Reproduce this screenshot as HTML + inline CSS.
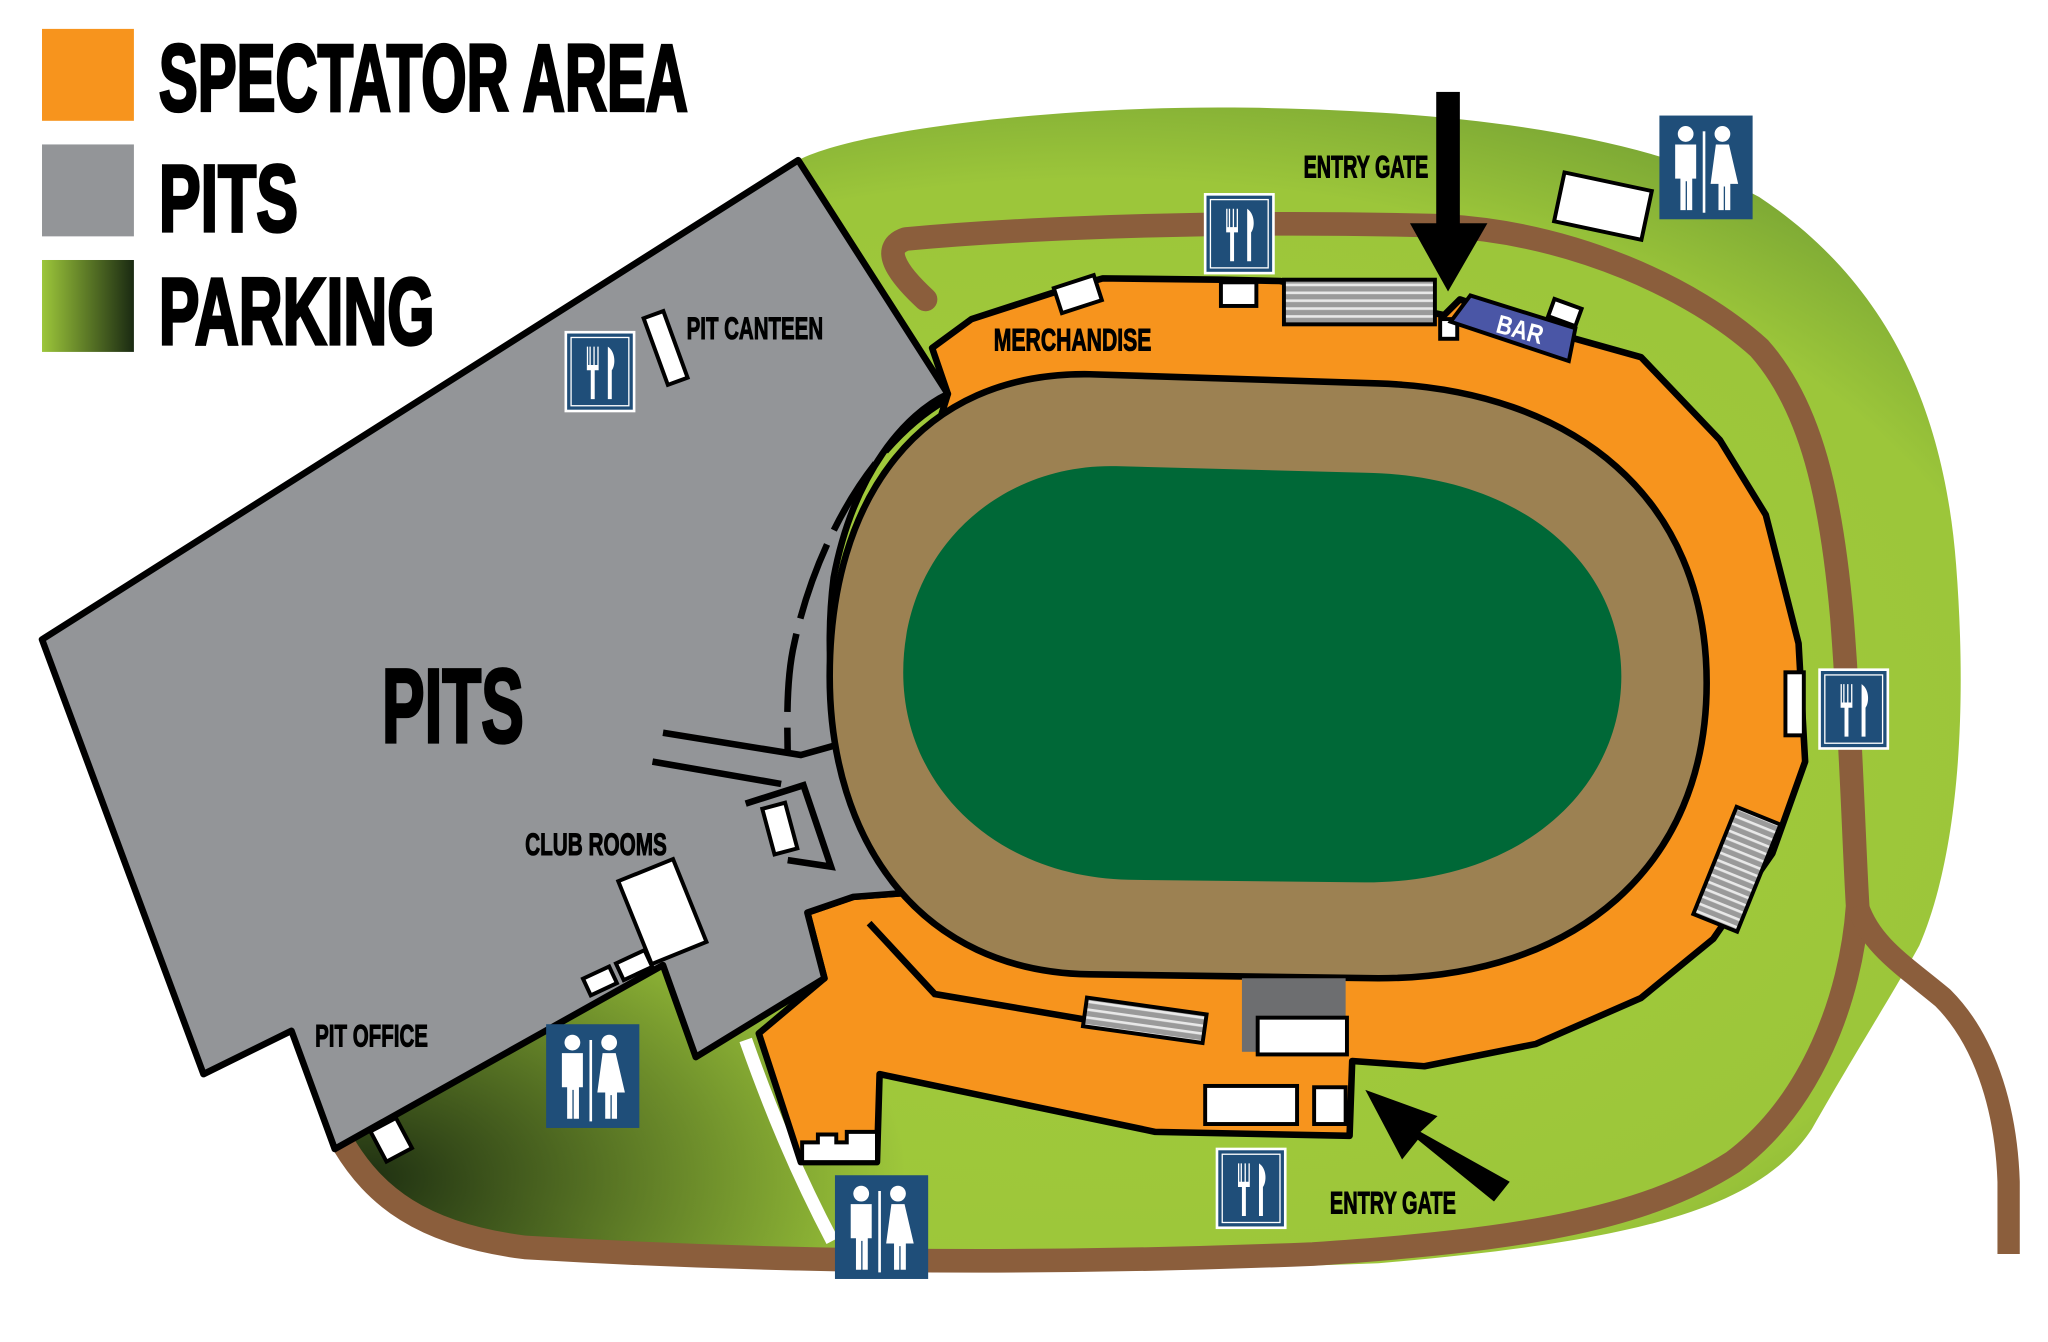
<!DOCTYPE html>
<html><head><meta charset="utf-8"><style>html,body{margin:0;padding:0;background:#fff}svg{display:block}text{font-family:"Liberation Sans",sans-serif;font-weight:bold}</style></head>
<body>
<svg width="2048" height="1342" viewBox="0 0 1560 1022" preserveAspectRatio="none" xmlns="http://www.w3.org/2000/svg">
<defs>
<radialGradient id="pg" cx="0.55" cy="0.55" r="0.65">
<stop offset="0" stop-color="#a4cc3c"/><stop offset="0.75" stop-color="#9cc63a"/><stop offset="0.92" stop-color="#7aa634"/><stop offset="1" stop-color="#5d8a2c"/></radialGradient>
<radialGradient id="dk" cx="0.17" cy="0.92" r="0.28"><stop offset="0" stop-color="#1a2a10" stop-opacity="0.95"/><stop offset="1" stop-color="#1a2a10" stop-opacity="0"/></radialGradient>
<linearGradient id="lg" x1="0" x2="1"><stop offset="0" stop-color="#9cc63a"/><stop offset="1" stop-color="#1a2a12"/></linearGradient>
<pattern id="st" width="6" height="6" patternUnits="userSpaceOnUse"><rect width="6" height="6" fill="#9a9a9a"/><rect width="6" height="2" fill="#e8e8e8"/></pattern>
<g id="food"><rect x="0" y="0" width="54" height="62" fill="#fff"/><rect x="2" y="2" width="50" height="58" fill="#1f4e79"/><rect x="5" y="5" width="44" height="52" fill="none" stroke="#fff" stroke-width="1"/><path d="M17 12v18h3v22h3V30h3V12h-1v14h-2V12h-1v14h-2V12h-1v14h-1V12z M33 12c6 4 6 14 3 18v22h-3z" fill="#fff"/></g>
<g id="wc"><rect width="71" height="79" fill="#1f4e79"/><circle cx="20" cy="14" r="6" fill="#fff"/><path d="M12 22h16v26h-3v24h-4V50h-1v22h-4V48h-4z" fill="#fff"/><circle cx="48" cy="14" r="6" fill="#fff"/><path d="M43 22h10l7 30h-6v20h-4V54h-1v18h-4V52h-6z" fill="#fff"/><rect x="33" y="12" width="2" height="62" fill="#fff"/></g>
</defs>
<rect width="1560" height="1022" fill="#fff"/>
<!-- legend -->
<rect x="32" y="22" width="70" height="70" fill="#f7941d"/>
<rect x="32" y="110" width="70" height="70" fill="#939598"/>
<rect x="32" y="198" width="70" height="70" fill="url(#lg)"/>
<g stroke="#000" stroke-width="2.5">
<text x="121" y="84" font-size="72" textLength="403" lengthAdjust="spacingAndGlyphs">SPECTATOR AREA</text>
<text x="121" y="176" font-size="72" textLength="106" lengthAdjust="spacingAndGlyphs">PITS</text>
<text x="121" y="262" font-size="72" textLength="210" lengthAdjust="spacingAndGlyphs">PARKING</text>
</g>
<!-- parking -->
<path d="M608 122 C650 100 800 80 950 82 C1100 84 1250 100 1340 150 C1430 210 1480 300 1490 430 C1500 560 1488 660 1462 720 C1440 760 1420 790 1380 860 C1340 920 1250 945 1050 962 C800 972 500 965 400 950 C320 935 280 905 255 875 L222 785 L155 818 L32 487 Z" fill="url(#pg)"/>
<path d="M608 122 C650 100 800 80 950 82 C1100 84 1250 100 1340 150 C1430 210 1480 300 1490 430 C1500 560 1488 660 1462 720 C1440 760 1420 790 1380 860 C1340 920 1250 945 1050 962 C800 972 500 965 400 950 C320 935 280 905 255 875 L222 785 L155 818 L32 487 Z" fill="url(#dk)"/>
<!-- roads -->
<g fill="none" stroke="#8b5e3c" stroke-linecap="round" stroke-linejoin="round">
<path d="M705 228 C680 205 672 188 690 182 C800 172 950 168 1100 172 C1200 178 1290 220 1340 265 C1380 310 1395 380 1403 470 C1410 560 1412 640 1415 690 C1410 760 1380 840 1320 885 C1250 930 1150 945 1000 955 C800 963 600 962 400 950 C320 940 285 910 262 872" stroke-width="18"/>
<path d="M1415 690 C1425 720 1450 735 1480 760 C1510 790 1528 840 1530 900 L1530 955" stroke-width="17" stroke-linecap="butt"/>
</g>
<!-- white path -->
<path d="M568 792 C585 840 605 890 634 945" stroke="#fff" stroke-width="10" fill="none"/>
<!-- orange -->
<path d="M722 300 L710 265 L740 243 L805 222 L840 212 L930 213 L975 214 L1100 240 L1112 228 L1200 258 L1250 272 L1310 335 L1345 392 L1370 490 L1375 580 L1350 650 L1305 715 L1250 760 L1170 795 L1085 812 L1030 808 L1028 865 L880 862 L670 818 L668 885 L610 885 L578 787 L628 745 L615 695 L650 683 L690 680 L660 500 Z" fill="#f7941d" stroke="#000" stroke-width="5" stroke-linejoin="round"/>
<!-- pits -->
<path d="M32 487 L608 122 L722 300 C690 315 650 360 635 440 C625 520 640 620 690 680 L650 683 L615 695 L628 745 L530 805 L505 735 L255 875 L222 785 L155 818 Z" fill="#939598" stroke="#000" stroke-width="5" stroke-linejoin="round"/>
<!-- track -->
<path d="M830 285 L1050 292 C1200 297 1300 380 1300 520 C1300 660 1200 745 1050 745 L830 742 C700 740 632 640 632 515 C632 380 700 283 830 285 Z" fill="#9c8152" stroke="#000" stroke-width="5"/>
<path d="M850 355 L1040 360 C1160 362 1235 430 1235 515 C1235 600 1160 672 1040 672 L860 670 C760 668 688 600 688 512 C688 420 760 353 850 355 Z" fill="#006837"/>
<!-- dashed & structures -->
<path d="M720 305 C660 340 620 420 605 490 C598 520 600 560 600 575" stroke="#000" stroke-width="5" fill="none" stroke-dasharray="60,12"/>
<path d="M505 558 L610 575 L635 568 M497 580 L595 597 M568 612 L612 598 L633 660 L600 655" stroke="#000" stroke-width="5" fill="none"/>
<path d="M662 703 L712 757 L830 777" stroke="#000" stroke-width="5" fill="none"/>
<rect x="585" y="613" width="18" height="36" fill="#fff" stroke="#000" stroke-width="3" transform="rotate(-15 594 631)"/>
<rect x="482" y="660" width="45" height="68" fill="#fff" stroke="#000" stroke-width="3" transform="rotate(-22 505 694)"/>
<rect x="446" y="740" width="22" height="14" fill="#fff" stroke="#000" stroke-width="3" transform="rotate(-25 457 747)"/>
<rect x="471" y="728" width="24" height="14" fill="#fff" stroke="#000" stroke-width="3" transform="rotate(-25 483 735)"/>
<rect x="287" y="855" width="22" height="26" fill="#fff" stroke="#000" stroke-width="3" transform="rotate(-28 298 868)"/>
<rect x="499" y="238" width="16" height="54" fill="#fff" stroke="#000" stroke-width="3" transform="rotate(-20 507 265)"/>
<rect x="1187" y="138" width="68" height="38" fill="#fff" stroke="#000" stroke-width="3" transform="rotate(12 1221 157)"/>
<rect x="930" y="215" width="27" height="18" fill="#fff" stroke="#000" stroke-width="3"/>
<rect x="805" y="214" width="32" height="20" fill="#fff" stroke="#000" stroke-width="3" transform="rotate(-18 821 224)"/>
<rect x="1097" y="243" width="13" height="15" fill="#fff" stroke="#000" stroke-width="3"/>
<rect x="978" y="213" width="115" height="34" fill="url(#st)" stroke="#000" stroke-width="3"/>
<path d="M1105 245 L1120 225 L1200 250 L1195 275 Z" fill="#4a56a6" stroke="#000" stroke-width="3"/>
<text x="1140" y="257" font-size="20" fill="#fff" transform="rotate(15 1155 250)" textLength="36" lengthAdjust="spacingAndGlyphs">BAR</text>
<rect x="1181" y="231" width="22" height="14" fill="#fff" stroke="#000" stroke-width="3" transform="rotate(20 1192 238)"/>
<rect x="1360" y="512" width="14" height="48" fill="#fff" stroke="#000" stroke-width="3"/>
<rect x="1305" y="618" width="36" height="88" fill="url(#st)" stroke="#000" stroke-width="3" transform="rotate(22 1323 662)"/>
<rect x="826" y="766" width="92" height="22" fill="url(#st)" stroke="#000" stroke-width="3" transform="rotate(8 872 777)"/>
<rect x="946" y="745" width="79" height="56" fill="#6d6e70"/>
<rect x="958" y="775" width="68" height="28" fill="#fff" stroke="#000" stroke-width="3"/>
<rect x="918" y="827" width="70" height="29" fill="#fff" stroke="#000" stroke-width="3"/>
<rect x="1001" y="828" width="24" height="28" fill="#fff" stroke="#000" stroke-width="3"/>
<path d="M611 870 L623 870 L623 864 L637 864 L637 870 L645 870 L645 862 L668 862 L668 885 L611 885 Z" fill="#fff" stroke="#000" stroke-width="3"/>
<!-- icons -->
<use href="#food" x="430" y="252"/><use href="#food" x="917" y="147"/><use href="#food" x="1385" y="509"/><use href="#food" x="926" y="874"/>
<use href="#wc" x="1264" y="88"/><use href="#wc" x="416" y="780"/><use href="#wc" x="636" y="895"/>
<!-- arrows -->
<rect x="1094" y="70" width="18" height="102" fill="#000"/>
<path d="M1074 170 L1133 170 L1103 222 Z" fill="#000"/>
<path d="M1150 900 L1138 915 L1080 868 L1068 883 L1040 830 L1095 850 L1082 862 Z" fill="#000"/>
<!-- labels -->
<g stroke="#000" stroke-width="0.8">
<text x="993" y="135" font-size="24" textLength="95" lengthAdjust="spacingAndGlyphs">ENTRY GATE</text>
<text x="757" y="267" font-size="24" textLength="120" lengthAdjust="spacingAndGlyphs">MERCHANDISE</text>
<text x="523" y="258" font-size="24" textLength="104" lengthAdjust="spacingAndGlyphs">PIT CANTEEN</text>
<text x="291" y="565" font-size="80" textLength="108" lengthAdjust="spacingAndGlyphs" stroke-width="2.5">PITS</text>
<text x="400" y="651" font-size="24" textLength="108" lengthAdjust="spacingAndGlyphs">CLUB ROOMS</text>
<text x="240" y="797" font-size="24" textLength="86" lengthAdjust="spacingAndGlyphs">PIT OFFICE</text>
<text x="1013" y="924" font-size="24" textLength="96" lengthAdjust="spacingAndGlyphs">ENTRY GATE</text>
</g>
</svg>
</body></html>
